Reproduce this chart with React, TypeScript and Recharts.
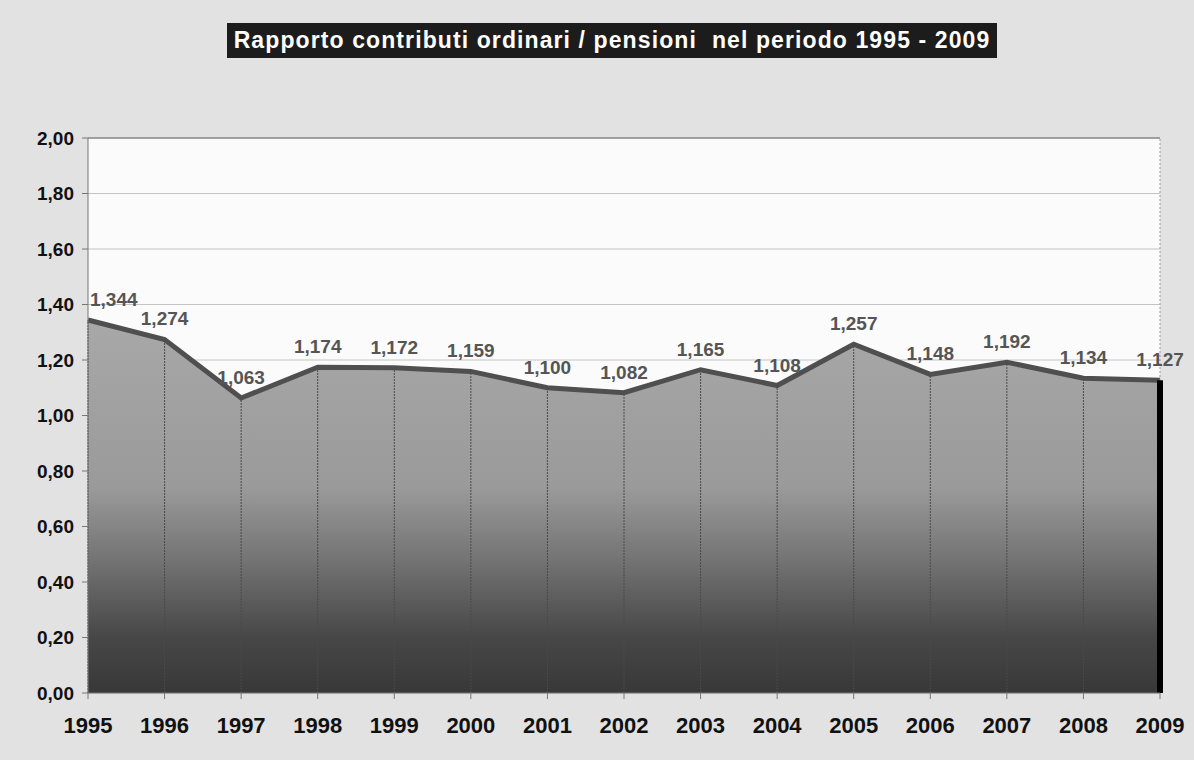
import React from "react";
import { AreaChart, Area, XAxis, YAxis, CartesianGrid, ReferenceLine } from "recharts";

const years = ["1995", "1996", "1997", "1998", "1999", "2000", "2001", "2002", "2003", "2004", "2005", "2006", "2007", "2008", "2009"];
const ratios = [1.344, 1.274, 1.063, 1.174, 1.172, 1.159, 1.1, 1.082, 1.165, 1.108, 1.257, 1.148, 1.192, 1.134, 1.127];
const yTicks = [0, 0.2, 0.4, 0.6, 0.8, 1.0, 1.2, 1.4, 1.6, 1.8, 2.0];

const data = years.map((y, i) => ({ anno: y, rapporto: ratios[i] }));

const fmt = (v: number, d: number) => v.toFixed(d).replace(".", ",");

// value label sitting above each point
const ValueLabel = (props: any) => {
  const { x, y, value, index } = props;
  const first = index === 0;
  return (
    <text
      x={first ? x + 2 : x}
      y={y - 14}
      textAnchor={first ? "start" : "middle"}
      fill="#555"
      fontSize={19}
      fontWeight="bold"
      fontFamily="'Liberation Sans', Arial, sans-serif"
    >
      {fmt(value, 3)}
    </text>
  );
};

export default function App() {
  return (
    <div style={{ position: "absolute", left: 0, top: 0, width: 1194, height: 760, background: "#e2e2e2", fontFamily: "'Liberation Sans', Arial, sans-serif" }}>
      <div
        style={{
          position: "absolute", left: 227, top: 23, width: 770, height: 35, background: "#1c1c1c",
          color: "#fff", fontSize: 23, fontWeight: "bold", letterSpacing: 1.1, lineHeight: "35px", textAlign: "center", whiteSpace: "pre",
        }}
      >
        Rapporto contributi ordinari / pensioni  nel periodo 1995 - 2009
      </div>
      <AreaChart width={1194} height={760} data={data} margin={{ top: 138, right: 34, left: 18, bottom: 27 }}>
        <defs>
          <linearGradient id="fillGrey" x1="0" y1="0" x2="0" y2="1">
            <stop offset="0%" stopColor="#a8a8a8" />
            <stop offset="45%" stopColor="#9a9a9a" />
            <stop offset="65%" stopColor="#727272" />
            <stop offset="85%" stopColor="#474747" />
            <stop offset="100%" stopColor="#383838" />
          </linearGradient>
        </defs>
        <CartesianGrid vertical={false} stroke="#c4c4c4" fill="#fbfbfb" />
        <XAxis
          dataKey="anno"
          height={40}
          tickSize={6}
          tickMargin={18}
          stroke="#777"
          tick={{ fill: "#111", fontSize: 22, fontWeight: "bold" }}
          interval={0}
        />
        <YAxis
          width={70}
          domain={[0, 2]}
          ticks={yTicks}
          tickSize={6}
          tickMargin={8}
          stroke="#777"
          tickFormatter={(v: number) => fmt(v, 2)}
          tick={{ fill: "#111", fontSize: 19, fontWeight: "bold" }}
        />
        <ReferenceLine y={2} stroke="#666" />
        <ReferenceLine x="2009" stroke="#999" strokeDasharray="2 2" />
        <Area
          type="linear"
          dataKey="rapporto"
          stroke="#4f4f4f"
          strokeWidth={5}
          fill="url(#fillGrey)"
          fillOpacity={1}
          isAnimationActive={false}
          label={<ValueLabel />}
        />
        {data.map((d) =>
          d.anno === "2009" ? (
            <ReferenceLine key={d.anno} segment={[{ x: d.anno, y: 0 }, { x: d.anno, y: d.rapporto }]} stroke="#000" strokeWidth={6} />
          ) : (
            <ReferenceLine key={d.anno} segment={[{ x: d.anno, y: 0 }, { x: d.anno, y: d.rapporto }]} stroke="#4a4a4a" strokeDasharray="2 1" strokeWidth={1} />
          )
        )}
      </AreaChart>
    </div>
  );
}
